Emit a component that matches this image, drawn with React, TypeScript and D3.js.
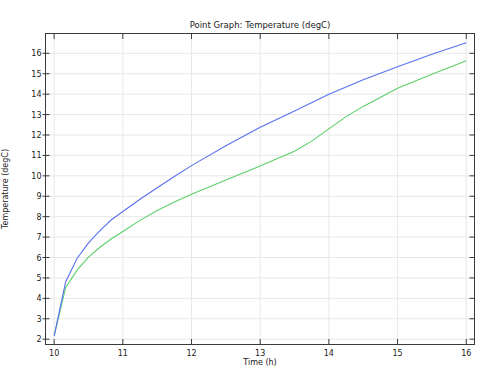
import React from "react";
import * as d3 from "d3";

const blueT = [10, 10.1667, 10.3333, 10.5, 10.6667, 10.8333, 11, 11.25, 11.5, 11.75, 12, 12.5, 13, 13.5, 14, 14.5, 15, 15.5, 16];
const blueV = [2.16, 4.8, 5.95, 6.72, 7.32, 7.85, 8.25, 8.85, 9.42, 9.97, 10.5, 11.47, 12.38, 13.18, 14.0, 14.7, 15.34, 15.95, 16.52];
const greenT = [10, 10.1667, 10.3333, 10.5, 10.6667, 10.8333, 11, 11.25, 11.5, 11.75, 12, 12.5, 13, 13.25, 13.5, 13.75, 14, 14.25, 14.5, 15, 15.5, 16];
const greenV = [2.16, 4.52, 5.38, 6.02, 6.5, 6.92, 7.27, 7.82, 8.3, 8.72, 9.1, 9.8, 10.48, 10.85, 11.2, 11.7, 12.3, 12.9, 13.4, 14.29, 14.98, 15.64];
const xTicks = [10, 11, 12, 13, 14, 15, 16];
const yTicks = [2, 3, 4, 5, 6, 7, 8, 9, 10, 11, 12, 13, 14, 15, 16];

const W = 498, H = 378;
const L = 45.5, R = 474.5, T = 33.5, B = 344.5;
const FONT = "DejaVu Sans, sans-serif";

export default function App() {
  const x = d3.scaleLinear().domain([9.874, 16.12]).range([L, R]);
  const y = d3.scaleLinear().domain([1.74, 16.97]).range([B, T]);
  const line = d3.line<[number, number]>().x(d => x(d[0])).y(d => y(d[1]));
  const blue = line(blueT.map((t, i) => [t, blueV[i]]) as [number, number][]) || "";
  const green = line(greenT.map((t, i) => [t, greenV[i]]) as [number, number][]) || "";
  return (
    <svg width={W} height={H} style={{ position: "absolute", left: 0, top: 0, background: "#fff" }}>
      <rect x={0} y={0} width={W} height={H} fill="#fff" />
      {xTicks.map(t => (
        <line key={"gx" + t} x1={x(t)} x2={x(t)} y1={T} y2={B} stroke="#e8e8e8" strokeWidth={1} />
      ))}
      {yTicks.map(t => (
        <line key={"gy" + t} x1={L} x2={R} y1={y(t)} y2={y(t)} stroke="#e8e8e8" strokeWidth={1} />
      ))}
      <path d={green} fill="none" stroke="#5ccf6a" strokeWidth={1.1} />
      <path d={blue} fill="none" stroke="#5a72f2" strokeWidth={1.1} />
      <rect x={L} y={T} width={R - L} height={B - T} fill="none" stroke="#3a3a3a" strokeWidth={1} />
      {xTicks.map(t => (
        <g key={"tx" + t}>
          <line x1={x(t)} x2={x(t)} y1={B} y2={B - 5.5} stroke="#3a3a3a" />
          <line x1={x(t)} x2={x(t)} y1={T} y2={T + 5.5} stroke="#3a3a3a" />
          <text x={x(t)} y={B + 11.5} textAnchor="middle" fontSize={8} fontFamily={FONT} fill="#222">{t}</text>
        </g>
      ))}
      {yTicks.map(t => (
        <g key={"ty" + t}>
          <line x1={L - 3} x2={L + 4} y1={y(t)} y2={y(t)} stroke="#3a3a3a" />
          <line x1={R} x2={R - 5} y1={y(t)} y2={y(t)} stroke="#3a3a3a" />
          <text x={L - 4} y={y(t) + 3} textAnchor="end" fontSize={8} fontFamily={FONT} fill="#222">{t}</text>
        </g>
      ))}
      <text x={(L + R) / 2} y={28} textAnchor="middle" fontSize={8.5} fontFamily={FONT} fill="#222">Point Graph: Temperature (degC)</text>
      <text x={(L + R) / 2} y={364.5} textAnchor="middle" fontSize={8} fontFamily={FONT} fill="#222">Time (h)</text>
      <text transform={`translate(8,${(T + B) / 2}) rotate(-90)`} textAnchor="middle" fontSize={8} fontFamily={FONT} fill="#222">Temperature (degC)</text>
    </svg>
  );
}
